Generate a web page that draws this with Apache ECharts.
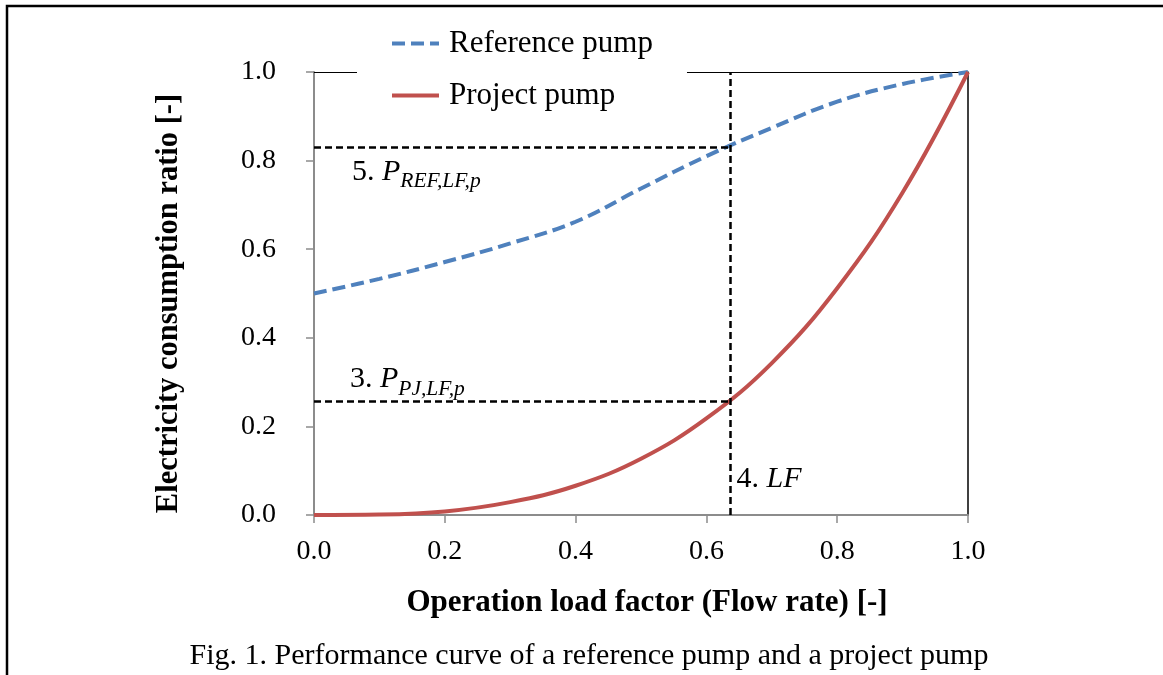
<!DOCTYPE html>
<html lang="en">
<head>
    <meta charset="utf-8">
    <title>Performance curve of a reference pump and a project pump</title>
    <script src="https://cdn.jsdelivr.net/npm/echarts@6/dist/echarts.min.js"></script>
    <style>
        html,
        body,
        #main {
            width: 100%;
            height: 100%;
            margin: 0;
            padding: 0;
            overflow: hidden;
            background-color: #ffffff;
        }
    </style>
</head>
<body>
<div id="main"></div>
<script>
    // load factor (x) and the two curves
    var loadFactor = [0, 0.1, 0.2, 0.3, 0.4, 0.5, 0.6, 0.7, 0.8, 0.9, 1.0];
    var refPump = [0.50, 0.533, 0.571, 0.613, 0.662, 0.737, 0.810, 0.874, 0.933, 0.973, 1.0];
    var pjPump = [0, 0.001, 0.008, 0.029, 0.066, 0.127, 0.218, 0.343, 0.512, 0.728, 1.0];
    var seriesNames = ['Reference pump', 'Project pump'];
    var xTicks = ['0.0', '0.2', '0.4', '0.6', '0.8', '1.0'];

    // guide lines: LF and the two readings
    var lf = 0.636;
    var refAtLF = 0.83;
    var pjAtLF = 0.257;

    var serif = 'Liberation Serif';

    function pairs(xs, ys) {
        var out = [];
        for (var i = 0; i < xs.length; i++) {
            out.push([xs[i], ys[i]]);
        }
        return out;
    }

    var richText = {
        n: {fontFamily: serif, fontSize: 30, color: '#000'},
        i: {fontFamily: serif, fontSize: 30, fontStyle: 'italic', color: '#000'},
        s: {fontFamily: serif, fontSize: 21.5, fontStyle: 'italic', color: '#000', padding: [19, 0, 0, 0]}
    };

    var dash = {color: '#000', type: [7, 4], width: 2.5};

    var chart = echarts.init(document.getElementById('main'));
    var option = {
        animation: false,
        backgroundColor: '#ffffff',
        grid: {left: 314, top: 72, right: 195, bottom: 160},
        legend: {
            orient: 'vertical',
            left: 357,
            top: 23,
            padding: [5, 34, 5, 33],
            backgroundColor: '#ffffff',
            itemWidth: 47,
            itemHeight: 14,
            itemGap: 21,
            itemStyle: {opacity: 0},
            lineStyle: {width: 4},
            textStyle: {fontFamily: serif, fontSize: 31, color: '#000', padding: [0, 0, 0, 5]},
            data: seriesNames
        },
        xAxis: [{
            type: 'value',
            min: 0,
            max: 1,
            interval: 0.2,
            name: 'Operation load factor (Flow rate) [-]',
            nameLocation: 'middle',
            nameGap: 72,
            nameTextStyle: {fontFamily: serif, fontSize: 31, fontWeight: 'bold', color: '#000', padding: [0, 0, 0, 12]},
            axisLine: {lineStyle: {color: '#8c8c8c', width: 2}},
            axisTick: {length: 8, lineStyle: {color: '#8c8c8c', width: 1.5}},
            axisLabel: {
                margin: 23,
                fontFamily: serif,
                fontSize: 28,
                color: '#000',
                formatter: function (v) {
                    return xTicks[Math.round(v / 0.2)];
                }
            },
            splitLine: {show: false}
        }, {
            type: 'value',
            position: 'top',
            min: 0,
            max: 1,
            axisLine: {show: true, onZero: false, lineStyle: {color: '#000', width: 1}},
            axisTick: {show: false},
            axisLabel: {show: false},
            splitLine: {show: false}
        }],
        yAxis: [{
            type: 'value',
            min: 0,
            max: 1,
            interval: 0.2,
            name: 'Electricity consumption ratio [-]',
            nameLocation: 'middle',
            nameGap: 129,
            nameTextStyle: {fontFamily: serif, fontSize: 30.5, fontWeight: 'bold', color: '#000', padding: [0, 20, 0, 0]},
            axisLine: {show: true, lineStyle: {color: '#8c8c8c', width: 2}},
            axisTick: {show: true, length: 8, lineStyle: {color: '#8c8c8c', width: 1.5}},
            axisLabel: {
                margin: 38,
                fontFamily: serif,
                fontSize: 28,
                color: '#000',
                formatter: function (v) {
                    return v.toFixed(1);
                }
            },
            splitLine: {show: false}
        }, {
            type: 'value',
            position: 'right',
            min: 0,
            max: 1,
            axisLine: {show: true, onZero: false, lineStyle: {color: '#000', width: 1.5}},
            axisTick: {show: false},
            axisLabel: {show: false},
            splitLine: {show: false}
        }],
        series: [{
            name: seriesNames[0],
            type: 'line',
            smooth: 0.4,
            symbol: 'none',
            z: 3,
            lineStyle: {color: '#4f81bd', width: 4, type: [13, 6]},
            itemStyle: {color: '#4f81bd'},
            data: pairs(loadFactor, refPump)
        }, {
            name: seriesNames[1],
            type: 'line',
            smooth: 0.4,
            symbol: 'none',
            z: 3,
            lineStyle: {color: '#c0504d', width: 4},
            itemStyle: {color: '#c0504d'},
            data: pairs(loadFactor, pjPump),
            markLine: {
                silent: true,
                symbol: 'none',
                label: {show: false},
                lineStyle: dash,
                data: [
                    [{coord: [0, refAtLF]}, {coord: [lf, refAtLF]}],
                    [{coord: [0, pjAtLF]}, {coord: [lf, pjAtLF]}],
                    [{coord: [lf, 0]}, {coord: [lf, 1]}]
                ]
            },
            markPoint: {
                silent: true,
                symbol: 'circle',
                symbolSize: 0,
                label: {show: true, position: 'right', distance: 0, rich: richText},
                data: [
                    {coord: [0.058, 0.774], label: {formatter: '{n|5. }{i|P}{s|REF,LF,p}'}},
                    {coord: [0.055, 0.306], label: {formatter: '{n|3. }{i|P}{s|PJ,LF,p}'}},
                    {coord: [lf + 0.01, 0.081], label: {formatter: '{n|4. }{i|LF}'}}
                ]
            }
        }],
        graphic: [{
            type: 'polyline',
            silent: true,
            shape: {points: [[7, 675], [7, 6], [1163, 6]]},
            style: {stroke: '#000', lineWidth: 2.5, fill: null}
        }, {
            type: 'text',
            silent: true,
            style: {
                text: 'Fig. 1. Performance curve of a reference pump and a project pump',
                x: 589,
                y: 656,
                align: 'center',
                verticalAlign: 'middle',
                fontFamily: serif,
                fontSize: 30,
                fill: '#000'
            }
        }]
    };
    chart.setOption(option);
</script>
</body>
</html>
